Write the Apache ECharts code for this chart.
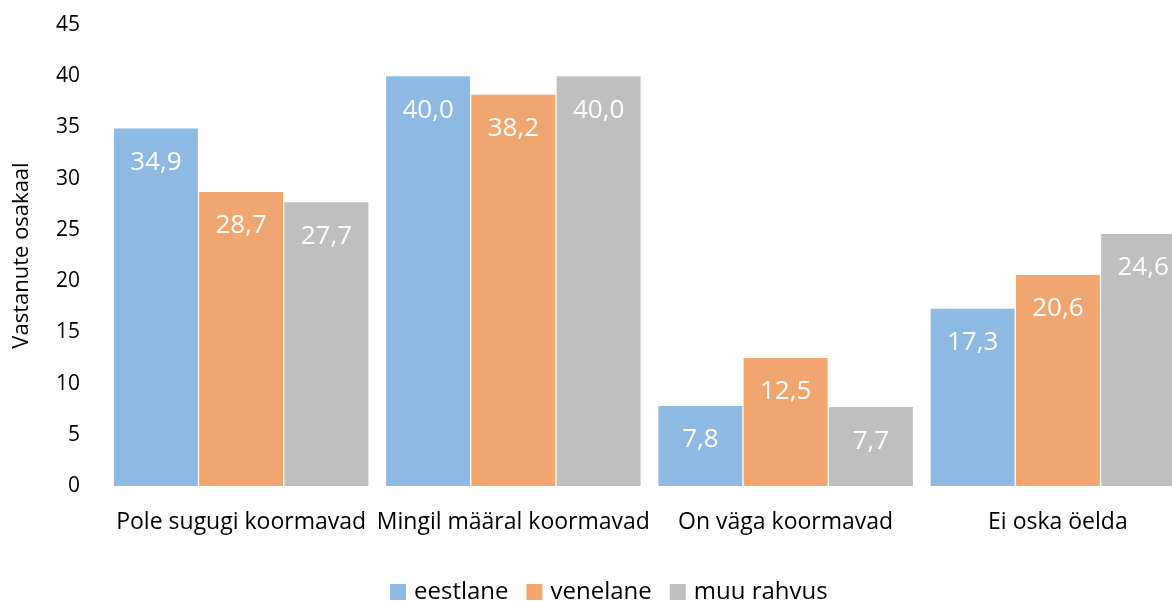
<!DOCTYPE html>
<html><head><meta charset="utf-8">
<script src="https://cdn.jsdelivr.net/npm/echarts@6/dist/echarts.min.js"></script>
<style>html,body{margin:0;padding:0;background:#fff;overflow:hidden}#c{width:1194px;height:601px}</style>
</head><body><div id="c"></div>
<script>
const categories = ['Pole sugugi koormavad', 'Mingil määral koormavad', 'On väga koormavad', 'Ei oska öelda'];
const seriesNames = ['eestlane', 'venelane', 'muu rahvus'];
const eestlane = [34.9, 40.0, 7.8, 17.3];
const venelane = [28.7, 38.2, 12.5, 20.6];
const muuRahvus = [27.7, 40.0, 7.7, 24.6];
const colors = ['#8EB9E2', '#F1A56F', '#BFBFBF'];
const FONT = '"Open Sans", "Noto Sans", sans-serif';

const chart = echarts.init(document.getElementById('c'), null, {renderer: 'canvas'});
const values = [eestlane, venelane, muuRahvus];
chart.setOption({
  animation: false,
  textStyle: {fontFamily: FONT},
  grid: {left: 105, right: 0, top: 25, bottom: 115, containLabel: false},
  legend: {
    data: seriesNames, top: 575, left: 385, itemWidth: 16, itemHeight: 16, itemGap: 18,
    icon: 'rect',
    textStyle: {fontFamily: FONT, fontSize: 24, color: '#000', padding: [0, 0, 0, 3]}
  },
  xAxis: {
    type: 'category', data: categories,
    axisLine: {show: false}, axisTick: {show: false},
    axisLabel: {fontFamily: FONT, fontSize: 23, color: '#000', margin: 25, interval: 0}
  },
  yAxis: {
    type: 'value', min: 0, max: 45, interval: 5,
    name: 'Vastanute osakaal', nameLocation: 'middle', nameGap: 72, nameRotate: 90,
    nameTextStyle: {fontFamily: FONT, fontSize: 22, color: '#000'},
    splitLine: {show: false}, axisLine: {show: false}, axisTick: {show: false},
    axisLabel: {fontFamily: FONT, fontSize: 21, color: '#000', margin: 25}
  },
  series: seriesNames.map((n, i) => ({
    name: n, type: 'bar', data: values[i], barWidth: 84, barGap: '1.5%', barCategoryGap: '6%',
    itemStyle: {color: colors[i]},
    label: {
      show: true, position: 'insideTop', distance: 21, color: '#fff',
      fontFamily: FONT, fontSize: 26,
      formatter: p => p.value.toFixed(1).replace('.', ',')
    }
  }))
});
</script></body></html>
